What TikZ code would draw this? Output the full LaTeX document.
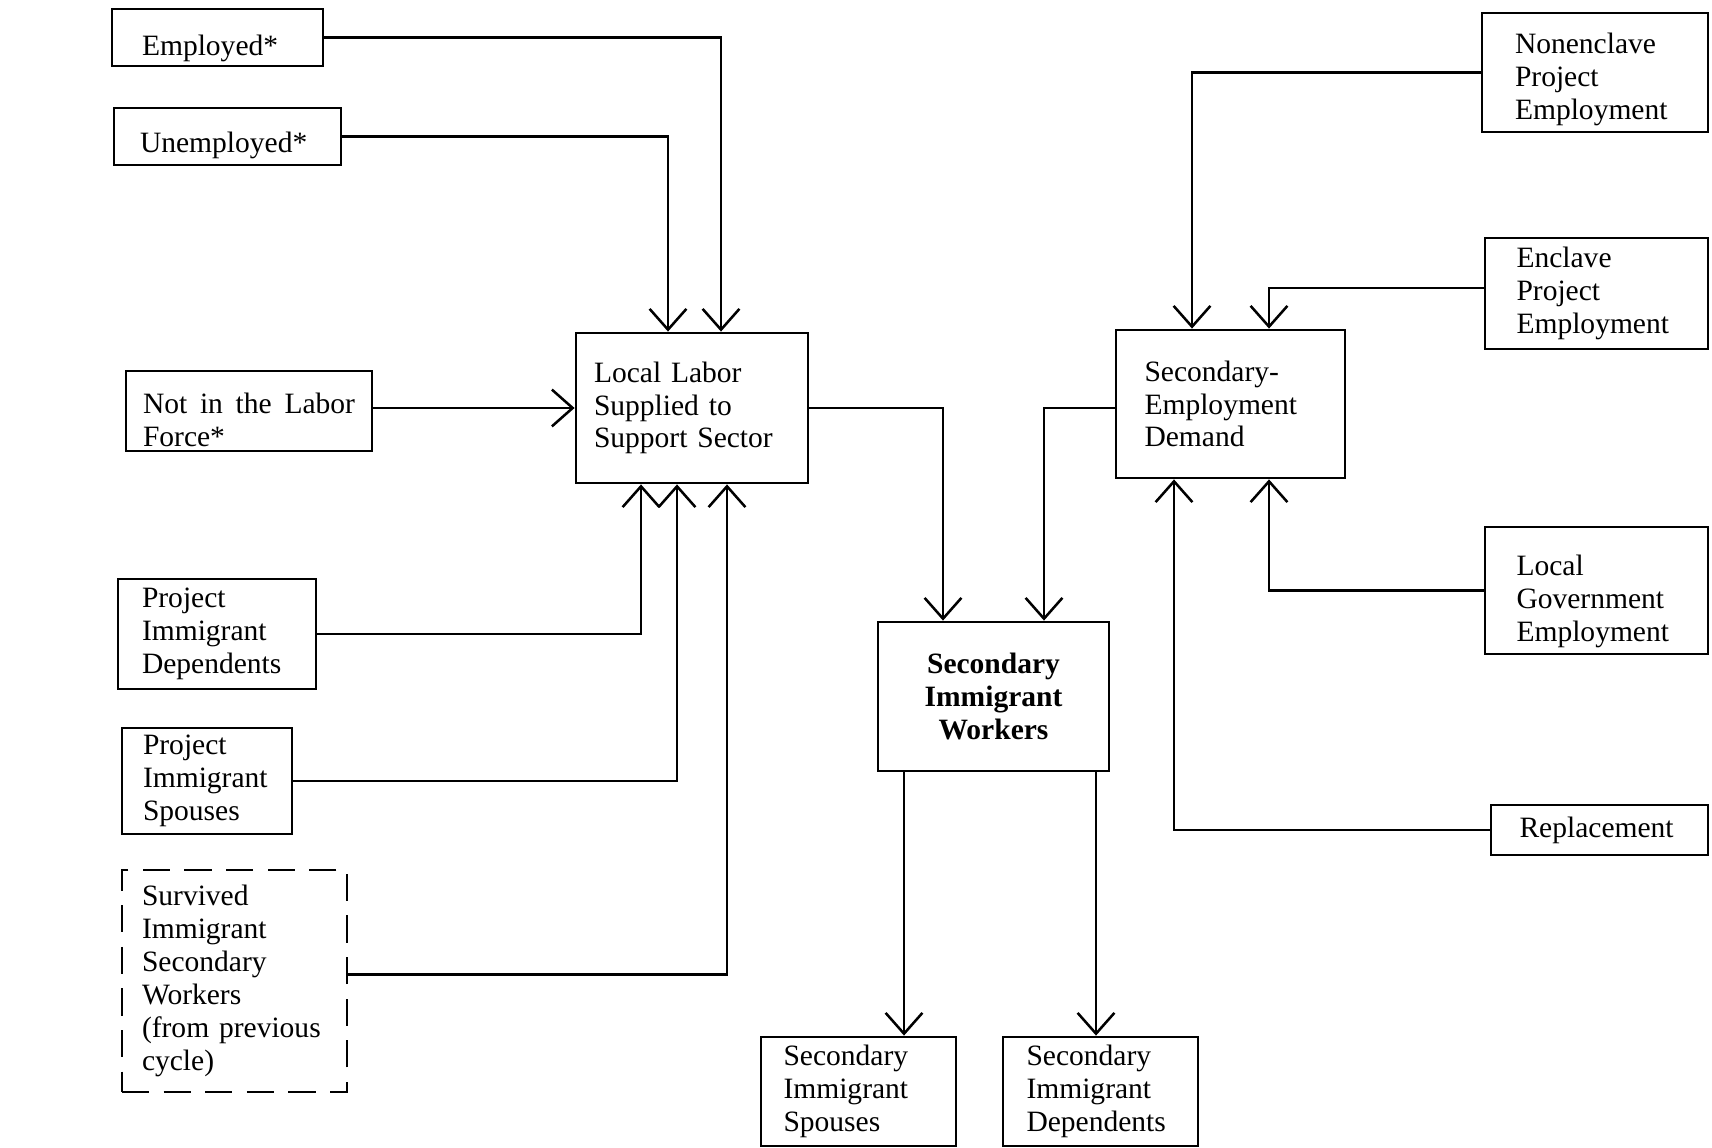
\documentclass[tikz,border=0pt]{standalone}
\usepackage{fontspec}
\setmainfont{Liberation Serif}
\usetikzlibrary{arrows.meta}
\begin{document}
\begin{tikzpicture}[x=0.125mm,y=-0.125mm,
        box/.style={draw,line width=1pt,align=left,inner sep=0pt,font=\fontsize{10.5}{11.7}\selectfont},
        sz/.style n args={3}{minimum width=#1*0.125mm,minimum height=#2*0.125mm,text width=#3*0.125mm},
        flow/.style={line width=0.9pt,-{Straight Barb[length=2.6mm,width=4.6mm]}}]
        \useasboundingbox (0,0) rectangle (1712,1148);
        % left column
        \node[box,text height=15pt,sz={211}{57}{151}] (employed) at (217.5,37.5) {Employed*};
        \node[box,text height=13.5pt,sz={227}{57}{175}] (unemployed) at (227.5,136.5) {Unemployed*};
        \node[box,text height=13.5pt,sz={246}{80}{212}] (notlabor) at (249,411) {Not\hfill in\hfill the\hfill Labor\\Force*};
        \node[box,sz={198}{110}{150}] (projdep) at (217,634) {Project\\Immigrant\\Dependents};
        \node[box,sz={170}{106}{128}] (projsp) at (207,781) {Project\\Immigrant\\Spouses};
        \node[box,dash pattern=on 3.4mm off 1.8mm,sz={225}{222}{185}] (survived) at (234.5,981)
              {Survived\\Immigrant\\Secondary\\Workers\\(from previous\\cycle)};
        % middle
        \node[box,sz={232}{150}{196}] (local) at (692,408) {Local Labor\\Supplied to\\Support Sector};
        \node[box,sz={229}{148}{172}] (demand) at (1230.5,404) {Secondary-\\Employment\\Demand};
        \node[box,align=center,font=\fontsize{10.5}{11.7}\selectfont\bfseries,sz={231}{149}{200}] (workers) at (993.5,696.5)
              {Secondary\\Immigrant\\Workers};
        \node[box,sz={195}{109}{150}] (secsp) at (858.5,1091.5) {Secondary\\Immigrant\\Spouses};
        \node[box,sz={195}{109}{148}] (secdep) at (1100.5,1091.5) {Secondary\\Immigrant\\Dependents};
        % right column
        \node[box,text height=12.4pt,sz={226}{119}{160}] (nonenclave) at (1595,72.5) {Nonenclave\\Project\\Employment};
        \node[box,sz={223}{111}{160}] (enclave) at (1596.5,293.5) {Enclave\\Project\\Employment};
        \node[box,text height=14.8pt,sz={223}{127}{160}] (localgov) at (1596.5,590.5) {Local\\Government\\Employment};
        \node[box,sz={217}{50}{160}] (replace) at (1599.5,830) {Replacement};
        % flows into local labor
        \draw[flow] (employed.east) -| (local.north -| 721,0);
        \draw[flow] (unemployed.east) -| (local.north -| 668,0);
        \draw[flow] (notlabor.east |- local.west) -- (local.west);
        \draw[flow] (projdep.east) -| (local.south -| 641,0);
        \draw[flow] (projsp.east) -| (local.south -| 677,0);
        \draw[flow] ([yshift=0.8mm]survived.east) -| (local.south -| 727,0);
        % flows into secondary workers
        \draw[flow] (local.east) -| (workers.north -| 943,0);
        \draw[flow] (demand.west |- local.east) -| (workers.north -| 1044,0);
        % flows into demand
        \draw[flow] (nonenclave.west) -| (demand.north -| 1192,0);
        \draw[flow] ([yshift=0.7mm]enclave.west) -| (demand.north -| 1269,0);
        \draw[flow] (localgov.west) -| (demand.south -| 1269,0);
        \draw[flow] (replace.west) -| (demand.south -| 1174,0);
        % out of secondary workers
        \draw[flow] (workers.south -| 904,0) -- (secsp.north -| 904,0);
        \draw[flow] (workers.south -| 1096,0) -- (secdep.north -| 1096,0);
\end{tikzpicture}
\end{document}
